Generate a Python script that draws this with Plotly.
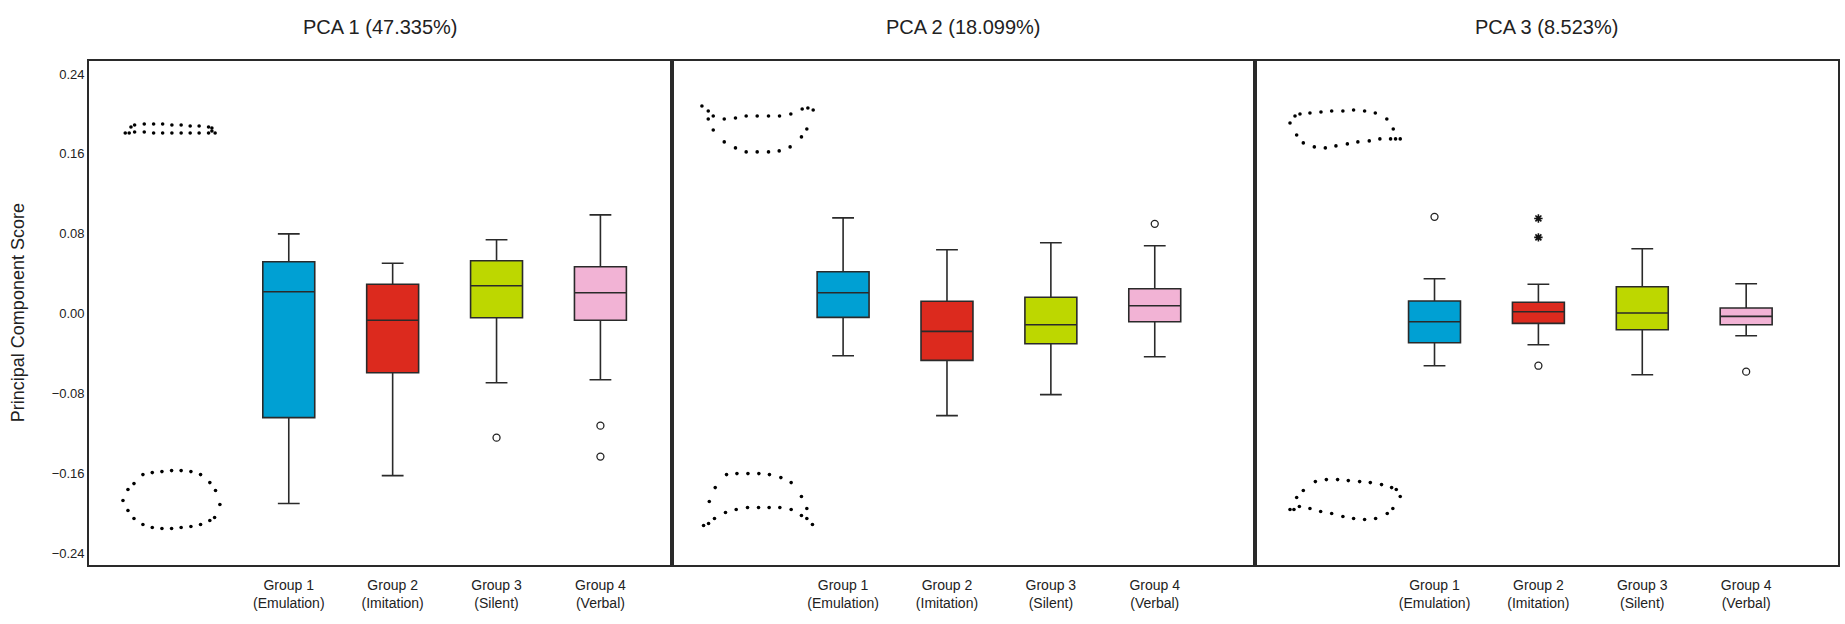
import plotly.graph_objects as go
from plotly.subplots import make_subplots

# ---------------- data ----------------
panel_titles = ["PCA 1 (47.335%)", "PCA 2 (18.099%)", "PCA 3 (8.523%)"]
group_labels = ["Group 1<br>(Emulation)", "Group 2<br>(Imitation)", "Group 3<br>(Silent)", "Group 4<br>(Verbal)"]
group_pos = [1, 2, 3, 4]
group_colors = ["#00A0D3", "#DC2A1E", "#BDD700", "#F2B3D5"]
y_ticks = [-0.24, -0.16, -0.08, 0.0, 0.08, 0.16, 0.24]

# box statistics per PCA (Group 1..4)
pc1_lower = [-0.190, -0.162, -0.069, -0.066]
pc1_q1 = [-0.104, -0.059, -0.004, -0.0065]
pc1_median = [0.022, -0.0065, 0.028, 0.021]
pc1_q3 = [0.052, 0.0296, 0.053, 0.047]
pc1_upper = [0.080, 0.0506, 0.074, 0.099]

pc2_lower = [-0.042, -0.102, -0.081, -0.043]
pc2_q1 = [-0.0036, -0.0467, -0.030, -0.008]
pc2_median = [0.021, -0.0176, -0.011, 0.008]
pc2_q3 = [0.042, 0.0125, 0.0165, 0.025]
pc2_upper = [0.096, 0.064, 0.071, 0.068]

pc3_lower = [-0.052, -0.031, -0.061, -0.022]
pc3_q1 = [-0.029, -0.0096, -0.016, -0.011]
pc3_median = [-0.008, 0.002, 0.0008, -0.0026]
pc3_q3 = [0.0128, 0.0115, 0.027, 0.0058]
pc3_upper = [0.035, 0.0295, 0.065, 0.030]

# outliers (circles) and extremes (stars)
pc1_out_group = [3, 4, 4]
pc1_out_value = [-0.124, -0.112, -0.143]
pc2_out_group = [4]
pc2_out_value = [0.090]
pc3_out_group = [1, 2, 4]
pc3_out_value = [0.097, -0.052, -0.058]
pc3_ext_group = [2, 2]
pc3_ext_value = [0.0954, 0.0764]

# shape outlines (dotted) at the extremes of each component
pc1_top_x = [-0.519, -0.484, -0.391, -0.301, -0.214, -0.125, -0.036, 0.051, 0.137, 0.228, 0.260,
             -0.574, -0.536, -0.484, -0.391, -0.301, -0.214, -0.125, -0.036, 0.051, 0.137, 0.228, 0.260, 0.291]
pc1_top_y = [0.187, 0.189, 0.190, 0.190, 0.190, 0.189, 0.189, 0.188, 0.188, 0.187, 0.186,
             0.181, 0.181, 0.182, 0.182, 0.181, 0.181, 0.181, 0.181, 0.181, 0.181, 0.181, 0.183, 0.181]
pc1_bot_x = [-0.404, -0.314, -0.221, -0.128, -0.036, 0.058, 0.151, 0.240, 0.295, 0.337, 0.286, 0.240,
             0.151, 0.058, -0.036, -0.128, -0.221, -0.314, -0.404, -0.490, -0.548, -0.596, -0.548, -0.490]
pc1_bot_y = [-0.161, -0.159, -0.158, -0.157, -0.157, -0.158, -0.161, -0.169, -0.177, -0.191, -0.204, -0.207,
             -0.211, -0.213, -0.214, -0.215, -0.215, -0.214, -0.211, -0.205, -0.197, -0.187, -0.176, -0.170]

pc2_top_x = [-0.359, -0.298, -0.250, -0.298, -0.144, -0.036, 0.067, 0.173, 0.282, 0.388, 0.497, 0.606,
             0.661, 0.712, 0.651, 0.599, 0.490, 0.385, 0.282, 0.173, 0.067, -0.036, -0.144, -0.250]
pc2_top_y = [0.208, 0.203, 0.198, 0.195, 0.195, 0.196, 0.198, 0.198, 0.198, 0.198, 0.200, 0.205,
             0.206, 0.204, 0.185, 0.177, 0.167, 0.163, 0.162, 0.162, 0.162, 0.166, 0.172, 0.184]
pc2_bot_x = [-0.343, -0.295, -0.238, -0.288, -0.231, -0.122, -0.022, 0.084, 0.189, 0.291, 0.401, 0.500,
             0.599, 0.651, 0.651, 0.705, 0.599, 0.500, 0.391, 0.288, 0.186, 0.080, -0.029, -0.132]
pc2_bot_y = [-0.212, -0.210, -0.205, -0.188, -0.174, -0.161, -0.160, -0.160, -0.160, -0.161, -0.164, -0.169,
             -0.183, -0.195, -0.205, -0.211, -0.202, -0.196, -0.194, -0.194, -0.194, -0.194, -0.196, -0.199]

pc3_top_x = [-0.391, -0.343, -0.295, -0.199, -0.093, 0.010, 0.118, 0.221, 0.327, 0.430, 0.541, 0.603,
             0.670, 0.625, 0.577, 0.474, 0.372, 0.262, 0.161, 0.051, -0.051, -0.157, -0.263, -0.327]
pc3_top_y = [0.191, 0.198, 0.200, 0.201, 0.202, 0.203, 0.203, 0.204, 0.203, 0.201, 0.195, 0.185,
             0.175, 0.175, 0.175, 0.175, 0.173, 0.172, 0.170, 0.168, 0.166, 0.167, 0.171, 0.179]
pc3_bot_x = [-0.391, -0.353, -0.301, -0.199, -0.096, 0.010, 0.118, 0.221, 0.327, 0.433, 0.545, 0.599,
             0.670, 0.632, 0.587, 0.490, 0.382, 0.279, 0.170, 0.067, -0.041, -0.147, -0.263, -0.327]
pc3_bot_y = [-0.196, -0.196, -0.193, -0.195, -0.198, -0.200, -0.203, -0.205, -0.206, -0.205, -0.200, -0.195,
             -0.183, -0.176, -0.174, -0.171, -0.169, -0.168, -0.167, -0.166, -0.166, -0.168, -0.177, -0.184]

# ---------------- figure ----------------
FONT = "Arial, Liberation Sans, sans-serif"
LINE = "#2a2a2a"

fig = make_subplots(rows=1, cols=3, shared_yaxes=True, horizontal_spacing=0)

panels = [
    (pc1_lower, pc1_q1, pc1_median, pc1_q3, pc1_upper, pc1_out_group, pc1_out_value, [], [],
     pc1_top_x, pc1_top_y, pc1_bot_x, pc1_bot_y),
    (pc2_lower, pc2_q1, pc2_median, pc2_q3, pc2_upper, pc2_out_group, pc2_out_value, [], [],
     pc2_top_x, pc2_top_y, pc2_bot_x, pc2_bot_y),
    (pc3_lower, pc3_q1, pc3_median, pc3_q3, pc3_upper, pc3_out_group, pc3_out_value, pc3_ext_group, pc3_ext_value,
     pc3_top_x, pc3_top_y, pc3_bot_x, pc3_bot_y),
]

for c, (lo, q1, med, q3, up, og, ov, eg, ev, tx, ty, bx, by) in enumerate(panels, start=1):
    for i in range(4):
        fig.add_trace(go.Box(
            x=[group_pos[i]], q1=[q1[i]], median=[med[i]], q3=[q3[i]],
            lowerfence=[lo[i]], upperfence=[up[i]],
            width=0.5, whiskerwidth=0.42, boxpoints=False,
            fillcolor=group_colors[i], line=dict(color=LINE, width=1.6),
            showlegend=False, hoverinfo="skip"), row=1, col=c)
    if og:
        fig.add_trace(go.Scatter(
            x=og, y=ov, mode="markers",
            marker=dict(symbol="circle-open", size=7, color="#222", line=dict(width=1.3)),
            showlegend=False, hoverinfo="skip"), row=1, col=c)
    if eg:
        fig.add_trace(go.Scatter(
            x=eg, y=ev, mode="markers",
            marker=dict(symbol="asterisk-open", size=7, color="#111", line=dict(width=1.6)),
            showlegend=False, hoverinfo="skip"), row=1, col=c)
    for sx, sy in ((tx, ty), (bx, by)):
        fig.add_trace(go.Scatter(
            x=sx, y=sy, mode="markers",
            marker=dict(symbol="circle", size=3.6, color="#000"),
            showlegend=False, hoverinfo="skip"), row=1, col=c)

x_ranges = [[-0.923, 4.689], [-0.647, 4.965], [-0.728, 4.884]]
for c in range(1, 4):
    fig.update_xaxes(
        row=1, col=c, range=x_ranges[c - 1],
        tickvals=group_pos, ticktext=group_labels, ticks="", ticklabelstandoff=6,
        tickfont=dict(family=FONT, size=14, color="#222"),
        showline=True, mirror=True, linecolor=LINE, linewidth=1.6,
        showgrid=False, zeroline=False)
    fig.update_yaxes(
        row=1, col=c, range=[-0.2515, 0.253],
        tickvals=y_ticks, tickformat=".2f",
        tickfont=dict(family=FONT, size=13, color="#222"),
        showline=True, mirror=True, linecolor=LINE, linewidth=1.6,
        showgrid=False, zeroline=False)

annotations = []
for c, t in enumerate(panel_titles):
    annotations.append(dict(
        text=t, xref="paper", yref="paper", x=(c + 0.5) / 3, y=1.068,
        xanchor="center", yanchor="middle", showarrow=False,
        font=dict(family=FONT, size=20, color="#222")))
annotations.append(dict(
    text="Principal Component Score", xref="paper", yref="paper", x=-0.0405, y=0.5,
    xanchor="center", yanchor="middle", textangle=-90, showarrow=False,
    font=dict(family=FONT, size=18, color="#222")))

fig.update_layout(
    width=1845, height=624,
    margin=dict(l=89, r=5, t=61, b=59),
    paper_bgcolor="white", plot_bgcolor="white",
    annotations=annotations,
    font=dict(family=FONT),
)

fig.write_html("out.html", config={"displayModeBar": False},
               post_script="document.body.style.margin='0';document.body.style.overflow='hidden';")
